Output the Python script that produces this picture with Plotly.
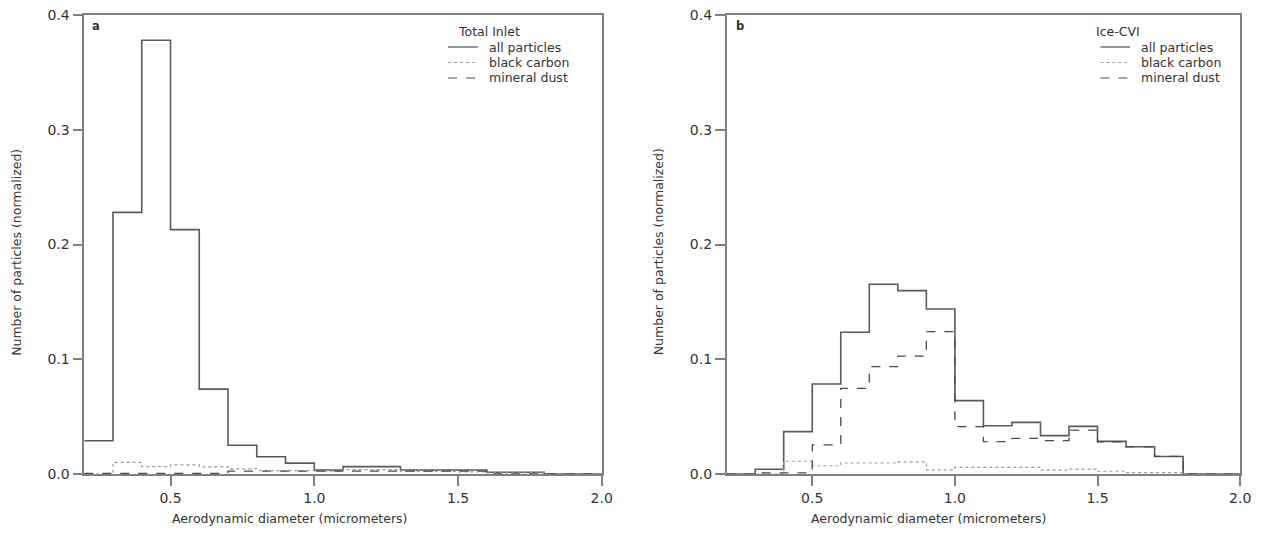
import plotly.graph_objects as go

# bin edges (micrometers)
edges = [0.2, 0.3, 0.4, 0.5, 0.6, 0.7, 0.8, 0.9, 1.0, 1.1, 1.2, 1.3, 1.4, 1.5,
         1.6, 1.7, 1.8, 1.9, 2.0]

# Panel a: Total Inlet (values per bin, 18 bins)
a_all = [0.029, 0.228, 0.378, 0.213, 0.074, 0.025, 0.015, 0.0095, 0.0035, 0.0064,
         0.0064, 0.0035, 0.0035, 0.0035, 0.0015, 0.0015, 0.0, 0.0]
a_bc = [0.0, 0.0102, 0.0064, 0.0080, 0.0062, 0.0044, 0.003, 0.003, 0.0025, 0.0038,
        0.0038, 0.0022, 0.0022, 0.0018, 0.001, 0.001, 0.0, 0.0]
a_dust = [0.0005, 0.0005, 0.0005, 0.0005, 0.0005, 0.0025, 0.0025, 0.0025, 0.0025, 0.0025,
          0.0025, 0.0025, 0.0025, 0.0025, 0.0, 0.0, 0.0, 0.0]

# Panel b: Ice-CVI
b_all = [0.0, 0.0042, 0.0369, 0.0784, 0.1235, 0.1653, 0.1598, 0.1438, 0.0639, 0.0421,
         0.0450, 0.0334, 0.0415, 0.0284, 0.0237, 0.0153, 0.0, 0.0]
b_bc = [0.0, 0.0, 0.0111, 0.0072, 0.0096, 0.0096, 0.0105, 0.0036, 0.0057, 0.0057,
        0.0057, 0.0033, 0.0042, 0.0024, 0.0012, 0.0012, 0.0, 0.0]
b_dust = [0.0, 0.001, 0.001, 0.0253, 0.0747, 0.0935, 0.1028, 0.1240, 0.0412, 0.0282,
          0.0310, 0.0290, 0.0383, 0.0280, 0.0237, 0.0153, 0.0, 0.0]

series_names = ["all particles", "black carbon", "mineral dust"]
legend_titles = ["Total Inlet", "Ice-CVI"]
panel_letters = ["a", "b"]
y_ticks = [0.0, 0.1, 0.2, 0.3, 0.4]
x_ticks = [0.5, 1.0, 1.5, 2.0]

TXT = "#333333"
AX = "#808080"
FONT = "DejaVu Sans"
styles = [dict(color="#5a5a5a", width=1.6, dash="solid"),
          dict(color="#9a9a9a", width=1.2, dash="dot"),
          dict(color="#4a4a4a", width=1.3, dash="dash")]

W, H = 1271, 538
top_px, bot_px = 15, 474


def px_x(p):
    return p / W


def px_y(p):
    return (bot_px - p) / (bot_px - top_px)


fig = go.Figure()


def steps(vals):
    return vals + [vals[-1]]


panels = [([a_all, a_bc, a_dust], "x", "y"), ([b_all, b_bc, b_dust], "x2", "y2")]
for vals_list, xa, ya in panels:
    for name, vals, st in zip(series_names, vals_list, styles):
        fig.add_trace(go.Scatter(
            x=edges, y=steps(vals), mode="lines", line_shape="hv",
            line=st, name=name, xaxis=xa, yaxis=ya, showlegend=False,
            hoverinfo="skip"))

axis_common = dict(showline=True, linecolor=AX, linewidth=1.5, mirror=True,
                   showgrid=False, zeroline=False, ticks="outside",
                   tickcolor=AX, tickwidth=1.5, ticklen=10,
                   tickfont=dict(family=FONT, size=14, color=TXT))

fig.update_layout(
    width=W, height=H,
    paper_bgcolor="white", plot_bgcolor="white",
    margin=dict(l=0, r=0, t=top_px, b=H - bot_px),
    xaxis=dict(domain=[85 / W, 607 / W], range=[0.2, 2.0], tickvals=x_ticks,
               ticktext=[f"{v:.1f}" for v in x_ticks], anchor="y", **axis_common),
    yaxis=dict(domain=[0, 1], range=[0, 0.4], tickvals=y_ticks,
               ticktext=[f"{v:.1f}" for v in y_ticks], anchor="x", **axis_common),
    xaxis2=dict(domain=[733 / W, 1251 / W], range=[0.2, 2.0], tickvals=x_ticks,
                ticktext=[f"{v:.1f}" for v in x_ticks], anchor="y2", **axis_common),
    yaxis2=dict(domain=[0, 1], range=[0, 0.4], tickvals=y_ticks,
                ticktext=[f"{v:.1f}" for v in y_ticks], anchor="x2", **axis_common),
    showlegend=False,
)

ann_font = dict(family=FONT, size=12.5, color=TXT)
leg_font = dict(family=FONT, size=12.5, color=TXT)

# axis titles and panel letters
for ytx, xtx, ltx, letter in [(17, 292, 97, panel_letters[0]),
                              (665, 937, 746, panel_letters[1])]:
    fig.add_annotation(text="Number of particles (normalized)", textangle=-90,
                       x=px_x(ytx), y=px_y(252), xref="paper", yref="paper",
                       xanchor="center", yanchor="middle",
                       showarrow=False, font=ann_font)
    fig.add_annotation(text="Aerodynamic diameter (micrometers)",
                       x=px_x(xtx), y=px_y(518), xref="paper", yref="paper",
                       xanchor="center", yanchor="middle",
                       showarrow=False, font=ann_font)
    fig.add_annotation(text=f"<b>{letter}</b>", x=px_x(ltx), y=px_y(26),
                       xref="paper", yref="paper", xanchor="center", yanchor="middle",
                       showarrow=False, font=dict(family=FONT, size=11.5, color=TXT))

# legends (title + line samples + labels)
for title, tx, lx in [(legend_titles[0], 460, 452), (legend_titles[1], 1104, 1110)]:
    fig.add_annotation(text=title, x=px_x(tx), y=px_y(31), xref="paper", yref="paper",
                       xanchor="left", yanchor="middle", showarrow=False, font=leg_font)
    for i, (name, st) in enumerate(zip(series_names, styles)):
        yy = 47 + i * 15.5
        fig.add_shape(type="line", xref="paper", yref="paper",
                      x0=px_x(lx), x1=px_x(lx + 30), y0=px_y(yy), y1=px_y(yy),
                      line=dict(color=st["color"], width=st["width"] * 0.8,
                                dash=st["dash"]))
        fig.add_annotation(text=name, x=px_x(lx + 39), y=px_y(yy), xref="paper",
                           yref="paper", xanchor="left", yanchor="middle",
                           showarrow=False, font=leg_font)

fig.write_html("out.html")
